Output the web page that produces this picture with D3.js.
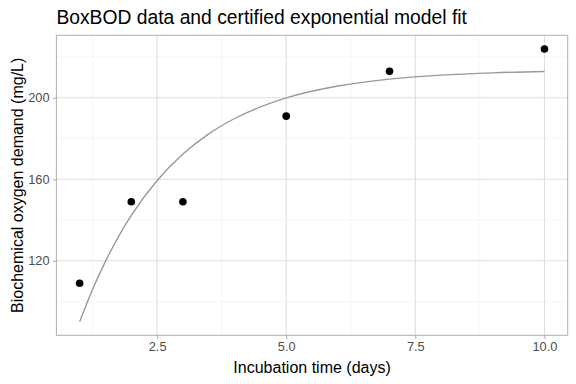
<!DOCTYPE html>
<html>
<head>
<meta charset="utf-8">
<script src="https://cdn.jsdelivr.net/npm/d3@7"></script>
<style>
  body { margin: 0; background: #fff; }
  text { font-family: "Liberation Sans", Arial, sans-serif; }
</style>
</head>
<body>
<svg id="chart"></svg>
<script>
// BoxBOD observations
const days = [1, 2, 3, 5, 7, 10];
const bod = [109, 149, 149, 191, 213, 224];

// certified model curve
const fitDays = [1, 1.25, 1.5, 1.75, 2, 2.5, 3, 3.5, 4, 5, 6, 7, 8, 9, 10];
const fitBod = [90.12, 105.93, 119.72, 131.75, 142.25, 159.38, 172.41, 182.32, 189.85, 199.95, 205.79, 209.17, 211.12, 212.26, 212.91];

const xTicks = [2.5, 5.0, 7.5, 10.0];
const xMinor = [1.25, 3.75, 6.25, 8.75];
const yTicks = [120, 160, 200];
const yMinor = [100, 140, 180, 220];

const W = 576, H = 384;
const margin = { top: 35.3, right: 8.3, bottom: 48.7, left: 56.4 };
const width = W - margin.left - margin.right;
const height = H - margin.top - margin.bottom;

const svg = d3.select('#chart').attr('width', W).attr('height', H);

const x = d3.scaleLinear().domain([0.55, 10.45]).range([0, width]);
const y = d3.scaleLinear().domain([83.43, 230.69]).range([height, 0]);

const g = svg.append('g').attr('transform', `translate(${margin.left},${margin.top})`);

// minor grid
g.selectAll('.xminor').data(xMinor).join('line')
  .attr('x1', d => x(d)).attr('x2', d => x(d)).attr('y1', 0).attr('y2', height)
  .attr('stroke', '#EFEFEF').attr('stroke-width', 0.55);
g.selectAll('.yminor').data(yMinor).join('line')
  .attr('y1', d => y(d)).attr('y2', d => y(d)).attr('x1', 0).attr('x2', width)
  .attr('stroke', '#EFEFEF').attr('stroke-width', 0.55);

// major grid
g.selectAll('.xmajor').data(xTicks).join('line')
  .attr('x1', d => x(d)).attr('x2', d => x(d)).attr('y1', 0).attr('y2', height)
  .attr('stroke', '#DEDEDE').attr('stroke-width', 1.07);
g.selectAll('.ymajor').data(yTicks).join('line')
  .attr('y1', d => y(d)).attr('y2', d => y(d)).attr('x1', 0).attr('x2', width)
  .attr('stroke', '#DEDEDE').attr('stroke-width', 1.07);

// fit line
const line = d3.line().x(d => x(d[0])).y(d => y(d[1])).curve(d3.curveMonotoneX);
g.append('path')
  .datum(d3.zip(fitDays, fitBod))
  .attr('d', line)
  .attr('fill', 'none')
  .attr('stroke', '#999999')
  .attr('stroke-width', 1.4);

// points
g.selectAll('.pt').data(d3.zip(days, bod)).join('circle')
  .attr('cx', d => x(d[0])).attr('cy', d => y(d[1])).attr('r', 3.8)
  .attr('fill', '#000');

// panel border
g.append('rect').attr('width', width).attr('height', height)
  .attr('fill', 'none').attr('stroke', '#B3B3B3').attr('stroke-width', 1.07);

// axes
const xAxis = g.append('g').attr('transform', `translate(0,${height})`)
  .call(d3.axisBottom(x).tickValues(xTicks).tickFormat(d3.format('.1f')).tickSize(3.6).tickPadding(3.2));
const yAxis = g.append('g')
  .call(d3.axisLeft(y).tickValues(yTicks).tickFormat(d3.format('d')).tickSize(3.6).tickPadding(3.2));
[xAxis, yAxis].forEach(a => {
  a.select('.domain').remove();
  a.selectAll('.tick line').attr('stroke', '#B3B3B3').attr('stroke-width', 1.07);
  a.selectAll('.tick text').attr('fill', '#4D4D4D').style('font-size', '12.8px')
    .style('font-family', '"Liberation Sans", Arial, sans-serif');
});

// titles (plot title sits flush with the panel's left edge)
svg.append('text').attr('x', margin.left).attr('y', 24)
  .style('font-size', '19.3px').attr('fill', '#000')
  .text('BoxBOD data and certified exponential model fit');

svg.append('text')
  .attr('x', margin.left + width / 2).attr('y', 372.5)
  .attr('text-anchor', 'middle').style('font-size', '16px').attr('fill', '#000')
  .text('Incubation time (days)');

svg.append('text')
  .attr('transform', `translate(22.5,${margin.top + height / 2}) rotate(-90)`)
  .attr('text-anchor', 'middle').style('font-size', '16px').attr('fill', '#000')
  .text('Biochemical oxygen demand (mg/L)');
</script>
</body>
</html>
